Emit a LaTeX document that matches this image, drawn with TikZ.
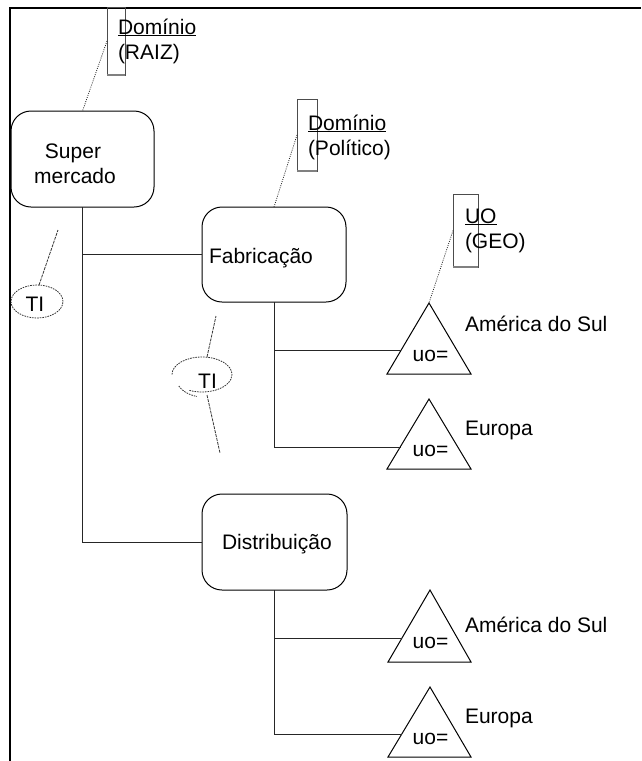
\documentclass[tikz,border=0pt]{standalone}
\usepackage{fontspec}
\setmainfont{Liberation Sans}
\usetikzlibrary{shapes.geometric}
\begin{document}
\begin{tikzpicture}[x=1pt,y=-1pt,
  every node/.style={font=\fontsize{21}{25}\selectfont, inner sep=0pt, outer sep=0pt},
  unit/.style={draw=black, line width=1pt, rounded corners=20pt, minimum width=144pt, minimum height=96pt},
  tag/.style={draw=black!70, line width=1pt},
  tagfoot/.style={draw=black!50, line width=1.6pt},
  link/.style={draw=black!85, line width=1pt},
  note/.style={draw=black!85, line width=0.8pt, dash pattern=on 0.9pt off 1.3pt},
  tiline/.style={draw=black!80, line width=0.8pt, dash pattern=on 3pt off 1pt},
  tiring/.style={draw=black!80, line width=0.8pt, dash pattern=on 1.6pt off 1pt},
  tri/.style={draw=black, line width=1pt},
  lbl/.style={anchor=base west},
  ctr/.style={anchor=base}]
\useasboundingbox (0,0) rectangle (641,761);

% page frame
\draw[line width=2pt] (10,761) -- (10,7.7) -- (641,7.7);

% organisational units
\node[unit, minimum width=143pt] (super) at (82.5,159) {};
\node[unit, minimum height=95pt] (fabr) at (274,254.5) {};
\node[unit, minimum width=145pt] (distr) at (274.5,542) {};
\node[ctr] (superA) at (73,158) {Super};
\node[ctr] (superB) at (75,183) {mercado};
\node[lbl] (fabrT) at (209,263) {Fabricação};
\node[lbl] (distrT) at (222,549) {Distribuição};

% domain tags
\node[tag, minimum width=18pt, minimum height=68pt] (dom1) at (116,41) {};
\draw[tagfoot] (dom1.south west) -- (dom1.south east);
\node[lbl] (dom1a) at (118,34) {\underline{Domínio}};
\node[lbl] (dom1b) at (118,59) {(RAIZ)};
\node[tag, minimum width=20pt, minimum height=72pt] (dom2) at (307,135) {};
\draw[tagfoot] (dom2.south west) -- (dom2.south east);
\node[lbl] (dom2a) at (308,130) {\underline{Domínio}};
\node[lbl] (dom2b) at (308,155) {(Político)};
\node[tag, minimum width=25pt, minimum height=73pt] (uo) at (465.5,230.5) {};
\draw[tagfoot] (uo.south west) -- (uo.south east);
\node[lbl] (uoa) at (465,223) {\underline{UO}};
\node[lbl] (uob) at (465,248) {(GEO)};

% regional triangles
\coordinate (t1) at (429,303);
\coordinate (t2) at (429,399);
\coordinate (t3) at (430,590);
\coordinate (t4) at (430,687);
\draw[tri] (t1) -- ++(42,71) -- ++(-84,0) -- cycle;
\draw[tri] (t2) -- ++(42,70) -- ++(-84,0) -- cycle;
\draw[tri] (t3) -- ++(41,72) -- ++(-83,0) -- cycle;
\draw[tri] (t4) -- ++(41,70) -- ++(-83,0) -- cycle;
\node[ctr] (u1) at (430.5,361) {uo=};
\node[ctr] (u2) at (430.5,456) {uo=};
\node[ctr] (u3) at (430.5,648) {uo=};
\node[ctr] (u4) at (430.5,744) {uo=};
\node[lbl] (r1) at (465,331) {América do Sul};
\node[lbl] (r2) at (465,435) {Europa};
\node[lbl] (r3) at (465,632) {América do Sul};
\node[lbl] (r4) at (465,723) {Europa};
\coordinate (t1w) at (401,350);
\coordinate (t2w) at (401,447);
\coordinate (t3w) at (402,638);
\coordinate (t4w) at (402,734);

% hierarchy connectors
\draw[link] (super.south) |- (fabr.west);
\draw[link] (super.south) |- (distr.west);
\draw[link] (fabr.south) |- (t1w);
\draw[link] (fabr.south) |- (t2w);
\draw[link] (distr.south) |- (t3w);
\draw[link] (distr.south) |- (t4w);

% tag pointers
\draw[note] (dom1.west) -- (super.north);
\draw[note] (dom2.west) -- (fabr.north);
\draw[note] (uo.west) -- (t1);

% TI markers
\node[ellipse, tiring, minimum width=52pt, minimum height=33pt] (ti1) at (37,301.5) {};
\node[ctr] (ti1T) at (35,311) {TI};
\coordinate (ti1end) at (58,230);
\draw[tiline] (ti1.83) -- (ti1end);

\coordinate (ti2) at (202,374.5);
\coordinate (ti2b) at (207,380);
\draw[tiring] ([xshift=-30pt]ti2) arc[start angle=180, end angle=-115, x radius=30pt, y radius=17.5pt];
\draw[tiring] ([shift={(-28.2pt,-6pt)}]ti2b) arc[start angle=200, end angle=250, x radius=30pt, y radius=17.5pt];
\node[ctr] (ti2T) at (207.5,388) {TI};
\coordinate (ti2top) at (207,357);
\coordinate (ti2up) at (216,316);
\coordinate (ti2bot) at (207,395);
\coordinate (ti2dn) at (220,453);
\draw[tiline] (ti2top) -- (ti2up);
\draw[tiline] (ti2bot) -- (ti2dn);
\end{tikzpicture}
\end{document}
